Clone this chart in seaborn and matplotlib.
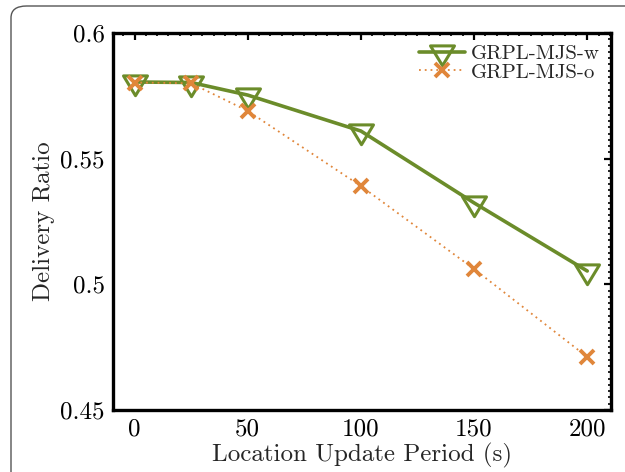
import matplotlib
matplotlib.use("Agg")
import matplotlib.pyplot as plt
from matplotlib.patches import FancyBboxPatch
from matplotlib.path import Path
from matplotlib.ticker import MultipleLocator
import seaborn as sns
import pandas as pd

# Data
periods = [0, 25, 50, 100, 150, 200]
ratio_w = [0.5805, 0.5803, 0.5753, 0.561, 0.5324, 0.5053]
ratio_o = [0.5803, 0.5800, 0.5690, 0.5391, 0.5061, 0.4711]
series_names = ["GRPL-MJS-w", "GRPL-MJS-o"]

sns.set_style("white")
plt.rcParams["font.family"] = ["cmr10", "DejaVu Serif"]
plt.rcParams["axes.unicode_minus"] = False
plt.rcParams["mathtext.fontset"] = "cm"

green = "#6b8c2a"
orange = "#e0863a"

# Down-pointing triangle centred on its centroid
tri = Path([(-1, 0.55), (1, 0.55), (0, -1.1), (-1, 0.55)],
           [Path.MOVETO, Path.LINETO, Path.LINETO, Path.CLOSEPOLY])

fig = plt.figure(figsize=(6.25, 4.72), dpi=100)
ax = fig.add_axes([0.1808, 0.1314, 0.7968, 0.7987])

# Rounded panel border around the figure
border = FancyBboxPatch((11 / 625, -0.2), 1.2, (1 - 6 / 472) + 0.2,
                        boxstyle="round,pad=0,rounding_size=0.025",
                        transform=fig.transFigure, fill=False,
                        edgecolor="#555555", linewidth=1.0, zorder=0)
fig.patches.append(border)

df_w = pd.DataFrame({"period": periods, "ratio": ratio_w})
df_o = pd.DataFrame({"period": periods, "ratio": ratio_o})

sns.lineplot(data=df_w, x="period", y="ratio", ax=ax, color=green,
             linewidth=2.6, marker=tri, markersize=19,
             markerfacecolor="none", markeredgecolor=green,
             markeredgewidth=2.2, label=series_names[0])
sns.lineplot(data=df_o, x="period", y="ratio", ax=ax, color=orange,
             linewidth=1.3, linestyle=(0, (1, 2.2)), marker="x",
             markersize=10.5, markeredgewidth=2.8, markeredgecolor=orange,
             label=series_names[1])

ax.set_xlim(-9.5, 210.5)
ax.set_ylim(0.45, 0.6)
ax.set_xticks([0, 50, 100, 150, 200])
ax.set_yticks([0.45, 0.5, 0.55, 0.6])
ax.set_yticklabels(["0.45", "0.5", "0.55", "0.6"])
ax.xaxis.set_minor_locator(MultipleLocator(5))
ax.yaxis.set_minor_locator(MultipleLocator(0.0025))
ax.tick_params(which="major", direction="in", length=5, width=1.6,
               top=True, right=True, labelsize=18, pad=6, colors="black")
ax.tick_params(which="minor", direction="in", length=2.5, width=1.2,
               top=True, right=True, colors="black")
for s in ax.spines.values():
    s.set_linewidth(2.4)
    s.set_color("black")

ax.set_xlabel("Location Update Period (s)", fontsize=18, labelpad=2)
ax.set_ylabel("Delivery Ratio", fontsize=18, labelpad=4)

leg = ax.legend(loc="upper right", frameon=False, fontsize=15,
                handlelength=2.25, handletextpad=0.25, labelspacing=0.0,
                borderaxespad=0.15)

fig.savefig("out.png", dpi=100)
